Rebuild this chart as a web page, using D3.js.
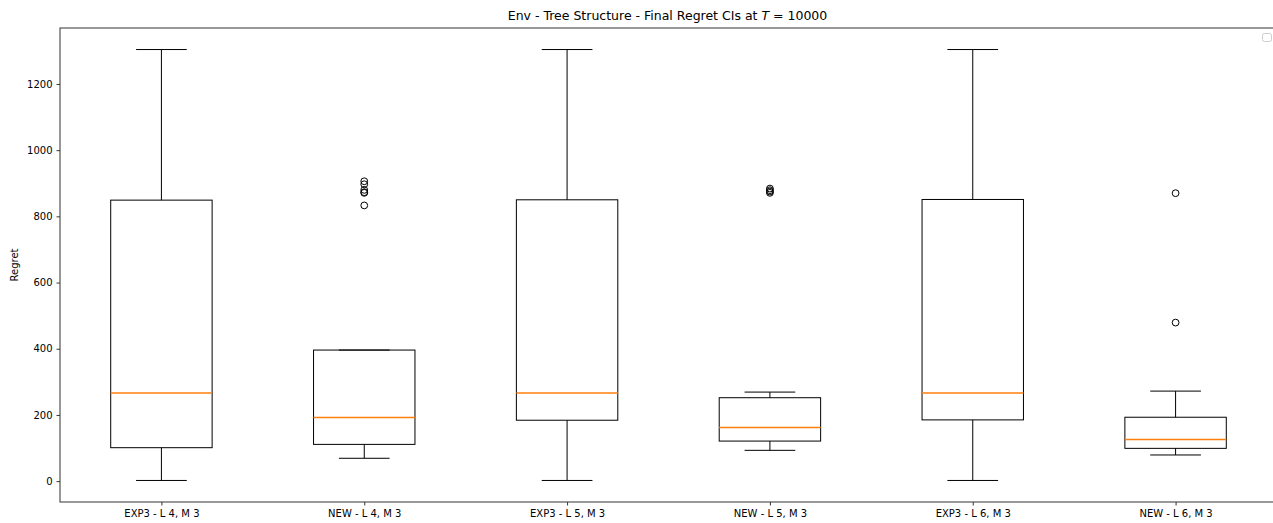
<!DOCTYPE html>
<html>
<head>
<meta charset="utf-8">
<script src="https://cdn.jsdelivr.net/npm/d3@7"></script>
<style>
  html, body { margin: 0; padding: 0; background: #fff; }
  svg { display: block; font-family: "DejaVu Sans", sans-serif; }
</style>
</head>
<body>
<svg id="chart" width="1273" height="523"></svg>
<script>
// ---- data ----
const categories = ["EXP3 - L 4, M 3", "NEW - L 4, M 3", "EXP3 - L 5, M 3", "NEW - L 5, M 3", "EXP3 - L 6, M 3", "NEW - L 6, M 3"];
const whiskerLow  = [2, 69, 2, 93, 2, 79];
const q1          = [101, 111, 184, 121, 185, 99];
const medians     = [266, 192, 266, 162, 266, 126];
const q3          = [849, 396, 850, 252, 851, 193];
const whiskerHigh = [1304, 396, 1304, 269, 1304, 272];
const outliers    = [[], [906, 897, 880, 873, 871, 833], [], [884, 879, 875, 871], [], [870, 479]];
const yTicks = [0, 200, 400, 600, 800, 1000, 1200];

const svg = d3.select("#chart");
const mLeft = 60, mRight = 1277, mTop = 28, mBottom = 502;

const x = d3.scaleLinear().domain([0.5, 6.5]).range([mLeft, mRight]);
const y = d3.scaleLinear().domain([-63.1, 1369.1]).range([mBottom, mTop]);
const unit = x(2) - x(1);

const g = svg.append("g");

categories.forEach((c, i) => {
  const cx = x(i + 1);
  const bw = unit * 0.5, cw = unit * 0.25;
  g.append("line").attr("x1", cx).attr("x2", cx).attr("y1", y(q3[i])).attr("y2", y(whiskerHigh[i])).attr("stroke", "#000").attr("stroke-width", 1);
  g.append("line").attr("x1", cx).attr("x2", cx).attr("y1", y(q1[i])).attr("y2", y(whiskerLow[i])).attr("stroke", "#000").attr("stroke-width", 1);
  g.append("line").attr("x1", cx - cw / 2).attr("x2", cx + cw / 2).attr("y1", y(whiskerHigh[i])).attr("y2", y(whiskerHigh[i])).attr("stroke", "#000").attr("stroke-width", 1);
  g.append("line").attr("x1", cx - cw / 2).attr("x2", cx + cw / 2).attr("y1", y(whiskerLow[i])).attr("y2", y(whiskerLow[i])).attr("stroke", "#000").attr("stroke-width", 1);
  g.append("rect").attr("x", cx - bw / 2).attr("width", bw)
    .attr("y", y(q3[i])).attr("height", y(q1[i]) - y(q3[i]))
    .attr("fill", "none").attr("stroke", "#000").attr("stroke-width", 1);
  g.append("line").attr("x1", cx - bw / 2).attr("x2", cx + bw / 2).attr("y1", y(medians[i])).attr("y2", y(medians[i]))
    .attr("stroke", "#ff7f0e").attr("stroke-width", 1.5);
  outliers[i].forEach(v => {
    g.append("circle").attr("cx", cx).attr("cy", y(v)).attr("r", 3.4)
      .attr("fill", "none").attr("stroke", "#000").attr("stroke-width", 1);
  });
});

const yAxis = d3.axisLeft(y).tickValues(yTicks).tickSize(3.5).tickPadding(4).tickFormat(d3.format("d"));
const ya = svg.append("g").attr("transform", `translate(${mLeft},0)`).call(yAxis);
const xAxis = d3.axisBottom(x).tickValues(d3.range(1, 7)).tickSize(3.5).tickPadding(4).tickFormat(d => categories[d - 1]);
const xa = svg.append("g").attr("transform", `translate(0,${mBottom})`).call(xAxis);
[ya, xa].forEach(a => {
  a.select(".domain").remove();
  a.selectAll("text").attr("font-size", 10).attr("font-family", "DejaVu Sans").attr("fill", "#000");
  a.selectAll("line").attr("stroke", "#000").attr("stroke-width", 0.8);
});

svg.append("rect").attr("x", mLeft).attr("y", mTop).attr("width", mRight - mLeft).attr("height", mBottom - mTop)
  .attr("fill", "none").attr("stroke", "#333").attr("stroke-width", 1);

const title = svg.append("text").attr("x", (mLeft + mRight) / 2 - 1).attr("y", 20)
  .attr("text-anchor", "middle").attr("font-size", 12.5).attr("fill", "#000");
title.append("tspan").text("Env - Tree Structure - Final Regret CIs at ");
title.append("tspan").attr("font-style", "italic").text("T");
title.append("tspan").text(" = 10000");

svg.append("text").attr("transform", `translate(18,${(mTop + mBottom) / 2}) rotate(-90)`)
  .attr("text-anchor", "middle").attr("font-size", 10).attr("fill", "#000").text("Regret");

svg.append("rect").attr("x", 1262.5).attr("y", 33.5).attr("width", 9).attr("height", 8).attr("rx", 2)
  .attr("fill", "#fff").attr("stroke", "#ccc").attr("stroke-width", 1);
</script>
</body>
</html>
